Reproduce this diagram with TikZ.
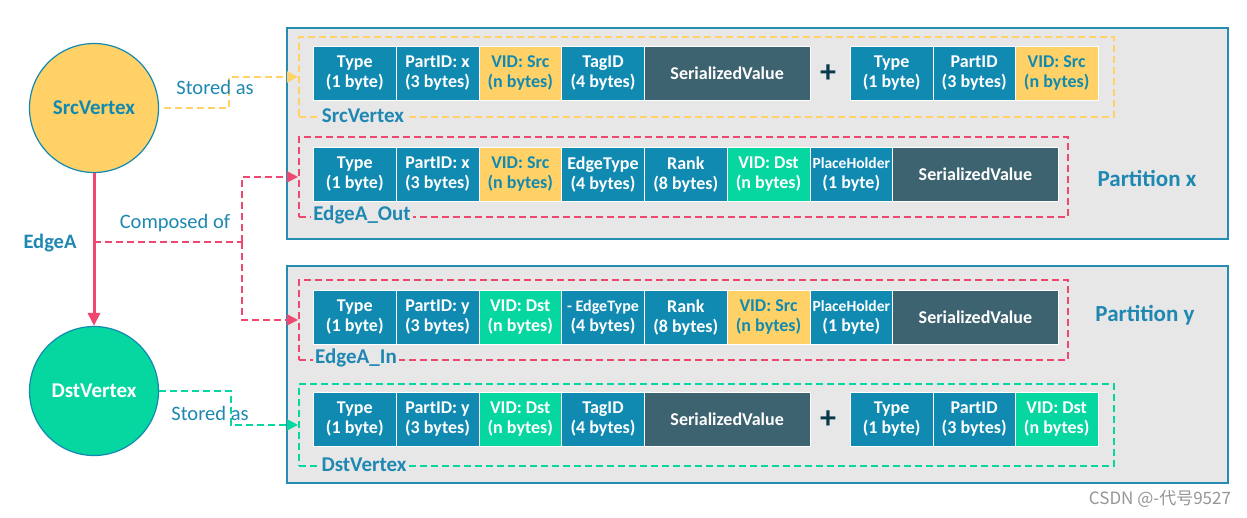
\documentclass[tikz,border=0pt]{standalone}
\usepackage{fontspec}
\setmainfont{Carlito}
\newfontfamily\cjk{Noto Sans CJK SC}
\usetikzlibrary{arrows.meta}

\definecolor{cblue}{RGB}{17,138,178}
\definecolor{cslate}{RGB}{62,99,112}
\definecolor{cyellow}{RGB}{255,209,102}
\definecolor{cgreen}{RGB}{6,214,160}
\definecolor{cpink}{RGB}{239,71,111}
\definecolor{cpart}{RGB}{231,231,231}
\definecolor{cframe}{RGB}{38,140,178}
\definecolor{cplus}{RGB}{7,59,76}
\definecolor{ctext}{RGB}{30,136,178}
\definecolor{cmark}{RGB}{150,150,150}

\tikzset{
  cell/.style={draw=white, line width=0.8pt, inner sep=0pt, minimum height=54pt,
    anchor=north west, align=center, font=\fontsize{18}{20}\selectfont\bfseries},
  vert/.style={circle, draw=cblue, line width=1.2pt, minimum size=129pt, inner sep=0pt,
    font=\fontsize{21}{21}\selectfont\bfseries},
  part/.style={draw=cframe, fill=cpart, line width=1.8pt, anchor=north west, inner sep=0pt},
  grp/.style={line width=1.8pt, dash pattern=on 7pt off 4pt, anchor=north west, inner sep=0pt},
  link/.style={line width=1.8pt, dash pattern=on 7pt off 4pt, -{Triangle[length=11pt,width=11pt]}},
  lbltext/.style={text=ctext, font=\fontsize{20.5}{20.5}\selectfont},
  gtag/.style={text=ctext, font=\fontsize{21}{21}\selectfont\bfseries, fill=cpart, inner sep=2pt},
  ptag/.style={text=ctext, font=\fontsize{23}{23}\selectfont\bfseries},
  plus/.style={text=cplus, font=\fontsize{32}{32}\selectfont\bfseries},
}

\begin{document}
\begin{tikzpicture}[x=1pt, y=-1pt]
  \useasboundingbox[fill=white] (0,0) rectangle (1247,517);
  % partitions
  \node[part, minimum width=941pt, minimum height=211pt] (px) at (286,27) {};
  \node[part, minimum width=941pt, minimum height=217pt] (py) at (286,265) {};
  \node[ptag] (pxl) at (1147,178) {Partition x};
  \node[ptag] (pyl) at (1145,315) {Partition y};
  % dashed groups
  \node[grp, draw=cyellow, minimum width=815pt, minimum height=80pt] (gsrc) at (298,36) {};
  \node[grp, draw=cpink, minimum width=769pt, minimum height=80pt] (gout) at (298,136) {};
  \node[grp, draw=cpink, minimum width=769pt, minimum height=80pt] (gin) at (298,279) {};
  \node[grp, draw=cgreen, minimum width=815pt, minimum height=82pt] (gdst) at (298,383) {};
  % key rows
  \foreach \x/\w/\f/\c/\lbl [count=\i] in {
      313/82.75/cblue/white/{Type\\(1 byte)},
      395.75/82.75/cblue/white/{PartID: x\\(3 bytes)},
      478.5/82.75/cyellow/cblue/{VID: Src\\(n bytes)},
      561.25/82.75/cblue/white/{TagID\\(4 bytes)},
      644/165.5/cslate/white/{SerializedValue},
      850/82.5/cblue/white/{Type\\(1 byte)},
      932.5/82.5/cblue/white/{PartID\\(3 bytes)},
      1015/82.5/cyellow/cblue/{VID: Src\\(n bytes)}}
    \node[cell, fill=\f, text=\c, minimum width=\w pt] (ra\i) at (\x,46) {\lbl};
  \foreach \x/\w/\f/\c/\lbl [count=\i] in {
      313/82.75/cblue/white/{Type\\(1 byte)},
      395.75/82.75/cblue/white/{PartID: x\\(3 bytes)},
      478.5/82.75/cyellow/cblue/{VID: Src\\(n bytes)},
      561.25/82.75/cblue/white/{EdgeType\\(4 bytes)},
      644/82.75/cblue/white/{Rank\\(8 bytes)},
      726.75/82.75/cgreen/white/{VID: Dst\\(n bytes)},
      809.5/82.75/cblue/white/{{\fontsize{15.5}{17}\selectfont PlaceHolder}\\(1 byte)},
      892.25/165.5/cslate/white/{SerializedValue}}
    \node[cell, fill=\f, text=\c, minimum width=\w pt] (rb\i) at (\x,147) {\lbl};
  \foreach \x/\w/\f/\c/\lbl [count=\i] in {
      313/82.75/cblue/white/{Type\\(1 byte)},
      395.75/82.75/cblue/white/{PartID: y\\(3 bytes)},
      478.5/82.75/cgreen/white/{VID: Dst\\(n bytes)},
      561.25/82.75/cblue/white/{{\fontsize{16}{17}\selectfont - EdgeType}\\(4 bytes)},
      644/82.75/cblue/white/{Rank\\(8 bytes)},
      726.75/82.75/cyellow/cblue/{VID: Src\\(n bytes)},
      809.5/82.75/cblue/white/{{\fontsize{15.5}{17}\selectfont PlaceHolder}\\(1 byte)},
      892.25/165.5/cslate/white/{SerializedValue}}
    \node[cell, fill=\f, text=\c, minimum width=\w pt] (rc\i) at (\x,290) {\lbl};
  \foreach \x/\w/\f/\c/\lbl [count=\i] in {
      313/82.75/cblue/white/{Type\\(1 byte)},
      395.75/82.75/cblue/white/{PartID: y\\(3 bytes)},
      478.5/82.75/cgreen/white/{VID: Dst\\(n bytes)},
      561.25/82.75/cblue/white/{TagID\\(4 bytes)},
      644/165.5/cslate/white/{SerializedValue},
      850/82.5/cblue/white/{Type\\(1 byte)},
      932.5/82.5/cblue/white/{PartID\\(3 bytes)},
      1015/82.5/cgreen/white/{VID: Dst\\(n bytes)}}
    \node[cell, fill=\f, text=\c, minimum width=\w pt] (rd\i) at (\x,392) {\lbl};
  \node[plus] (plusa) at (828,74) {+};
  \node[plus] (plusd) at (828,420) {+};
  % group names
  \node[gtag] (gsrcl) at (363,116) {SrcVertex};
  \node[gtag] (goutl) at (362,215) {EdgeA\_Out};
  \node[gtag] (ginl) at (356,358) {EdgeA\_In};
  \node[gtag] (gdstl) at (364,465) {DstVertex};
  % vertices and edge
  \node[vert, fill=cyellow, text=cblue] (src) at (94,108) {SrcVertex};
  \node[vert, fill=cgreen, text=white] (dst) at (94,391) {DstVertex};
  \draw[cpink, line width=3pt, -{Triangle[length=13pt,width=12pt]}] (src.south) -- (dst.north)
    coordinate[pos=0.45] (mid);
  \node[text=ctext, font=\fontsize{20.5}{20.5}\selectfont\bfseries] (edgel) at (50,243) {EdgeA};
  % connectors
  \draw[link, -, cpink] (mid) -- ++(148,0) coordinate (fork);
  \draw[link, cpink] (fork) |- (gout.west);
  \draw[link, cpink] (fork) |- (gin.west);
  \draw[link, cyellow, shorten <=5pt] (src.east) -- ++(70,0) |- (gsrc.west);
  \draw[link, cgreen] (dst.east) -- ++(72,0) |- (gdst.west);
  \node[lbltext] (storeda) at (215,87) {Stored as};
  \node[lbltext] (composed) at (175,223) {Composed of};
  \node[lbltext] (storedd) at (210,413) {Stored as};
  \node[text=cmark, font=\cjk\fontsize{17}{17}\selectfont] (mark) at (1160,499) {CSDN @-代号9527};
\end{tikzpicture}
\end{document}
